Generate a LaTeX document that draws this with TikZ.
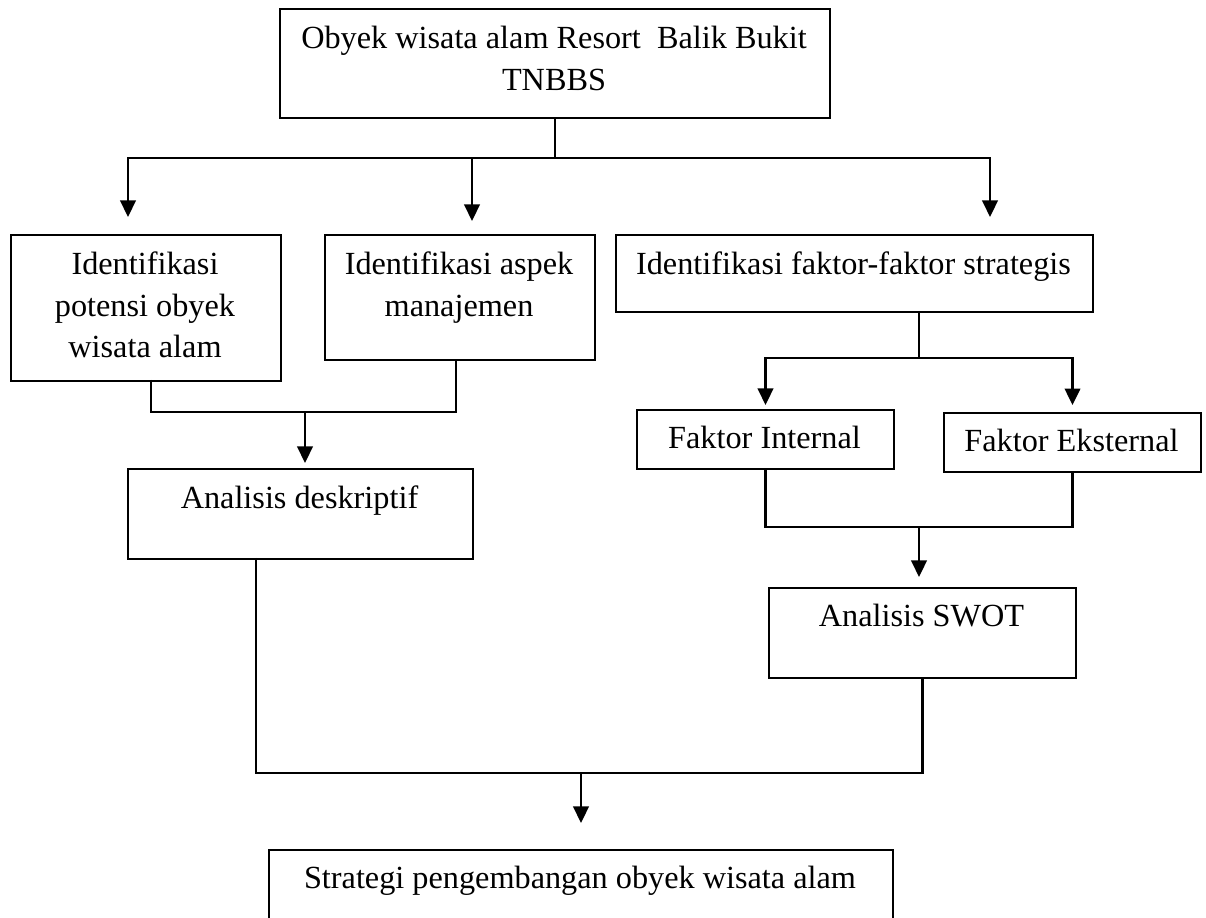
\documentclass[tikz,border=0pt]{standalone}
\usepackage{fontspec}
\setmainfont{Liberation Serif}
\usetikzlibrary{arrows.meta}
\begin{document}
\begin{tikzpicture}[x=0.375pt,y=-0.375pt,
  box/.style={draw, line width=0.75pt, inner sep=0pt, anchor=north west},
  txt/.style={anchor=base, inner sep=0pt, font=\fontsize{12.1}{15.6}\selectfont},
  ln/.style={line width=0.8pt},
  arr/.style={line width=0.95pt, -{Triangle[length=6.2pt,width=5.8pt]}}]
\useasboundingbox (0,0) rectangle (1206,918);
\fill[white] (0,0) rectangle (1206,918);
\clip (0,0) rectangle (1206,918);

% boxes
\node[box, minimum width=206.25pt, minimum height=40.875pt] (top) at (279,8) {};
\node[box, minimum width=101.25pt, minimum height=54.75pt] (b1) at (10,234) {};
\node[box, minimum width=101.25pt, minimum height=46.875pt] (b2) at (324,234) {};
\node[box, minimum width=178.875pt, minimum height=28.875pt] (b3) at (615,234) {};
\node[box, minimum width=96.375pt, minimum height=22.125pt] (fi) at (636,409) {};
\node[box, minimum width=96.375pt, minimum height=22.125pt] (fe) at (943,412) {};
\node[box, minimum width=129.375pt, minimum height=33.75pt] (ad) at (127,468) {};
\node[box, minimum width=115.125pt, minimum height=33.75pt] (swot) at (768,587) {};
\node[box, minimum width=234pt, minimum height=41.625pt] (bot) at (268,849) {};

% texts
\node[txt] (t0a) at (554,49) {Obyek wisata alam Resort\ \ Balik Bukit};
\node[txt] (t0b) at (554,91) {TNBBS};
\node[txt] (t1a) at (145,275) {Identifikasi};
\node[txt] (t1b) at (145,317) {potensi obyek};
\node[txt] (t1c) at (145,358) {wisata alam};
\node[txt] (t2a) at (459,275) {Identifikasi aspek};
\node[txt] (t2b) at (459,317) {manajemen};
\node[txt] (t3) at (853.5,275) {Identifikasi faktor-faktor strategis};
\node[txt] (t4) at (764.5,449) {Faktor Internal};
\node[txt] (t5) at (1071.5,452) {Faktor Eksternal};
\node[txt] (t6) at (299.5,509) {Analisis deskriptif};
\node[txt] (t7) at (921.5,627) {Analisis SWOT};
\node[txt] (t8) at (580,888) {Strategi pengembangan obyek wisata alam};

% level coordinates
\coordinate (y1) at (0,158);
\coordinate (y2) at (0,412);
\coordinate (y3) at (0,358);
\coordinate (y4) at (0,527);
\coordinate (y5) at (0,773);
% arrow tips
\coordinate (a1) at (128,217);
\coordinate (a2) at (472,221);
\coordinate (a3) at (990,217);
\coordinate (a4) at (305,463);
\coordinate (a5) at (919,577);
\coordinate (a6) at (581,823);
% connector starts on box edges
\coordinate (c1) at (151,380);
\coordinate (c2) at (456,359);
\coordinate (c3) at (919,311);
\coordinate (c5) at (256,558);

% top branch
\draw[ln] (top.south) -- (top.south |- y1);
\draw[arr] (top.south |- y1) -| (a1);
\draw[arr] (top.south |- y1) -| (a3);
\draw[arr] (a2 |- y1) -- (a2);

% b1 + b2 -> ad
\draw[ln] (c1) |- (c2 |- y2) -- (c2);
\draw[arr] (a4 |- y2) -- (a4);

% b3 -> fi, fe
\draw[ln] (c3) -- (c3 |- y3);
\draw[arr] (c3 |- y3) -| ([yshift=1.5pt]fi.north);
\draw[arr] (c3 |- y3) -| ([yshift=2.6pt]fe.north);

% fi + fe -> swot
\draw[ln] (fi.south) |- (fe.south |- y4) -- (fe.south);
\draw[arr] (a5 |- y4) -- (a5);

% ad + swot -> bot
\draw[ln] (c5) |- (swot.south |- y5) -- (swot.south);
\draw[arr] (a6 |- y5) -- (a6);
\end{tikzpicture}
\end{document}
